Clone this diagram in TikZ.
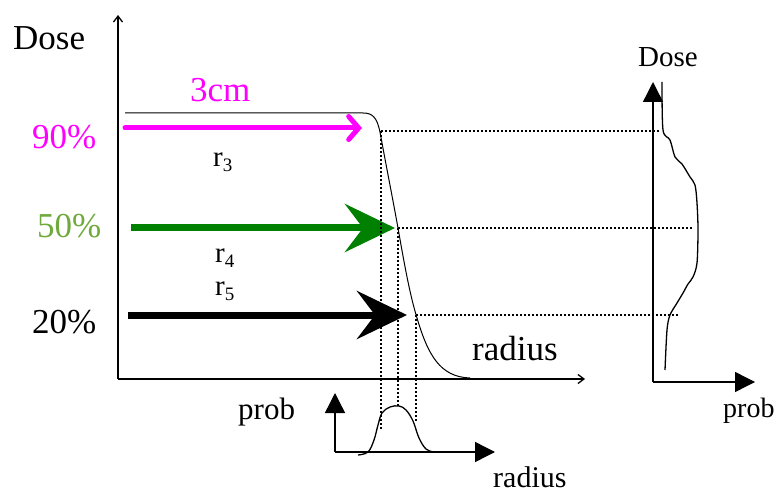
\documentclass[tikz,border=0pt]{standalone}
\usepackage{fontspec}
\setmainfont{Liberation Serif}
\usetikzlibrary{arrows.meta}
\definecolor{mag}{RGB}{255,0,255}
\definecolor{arrgreen}{RGB}{0,128,0}
\definecolor{txtgreen}{RGB}{112,170,60}
\newcommand{\fs}[1]{\fontsize{#1}{#1}\selectfont}
\newcommand{\rsub}[1]{r\raisebox{-5pt}{\fs{19}#1}}
\begin{document}
\begin{tikzpicture}[x=1pt,y=-1pt,
  lbl/.style={inner sep=0pt,anchor=base west},
  axis/.style={line width=1.3pt,-{Straight Barb[length=6pt,width=9pt]}},
  faxis/.style={line width=1.4pt,-{Triangle[length=20pt,width=20pt]}},
  dots/.style={line width=2pt,dash pattern=on 2pt off 2pt},
  curve/.style={line width=1pt}]
\useasboundingbox (0,0) rectangle (781,494);
\fill[white] (0,0) rectangle (781,494);
% main axes
\coordinate (O) at (118,379);
\coordinate (Ytop) at (118,15);
\coordinate (Xend) at (585,379);
\draw[axis] (O) -- (Ytop);
\draw[axis] (O) -- (Xend);
% dose curve
\draw[curve] (125,113) -- (363,113) .. controls (373,113) and (377,118) .. (380,132)
  .. controls (386,165) and (392,195) .. (398,228)
  .. controls (405,268) and (410,295) .. (417,318)
  .. controls (428,355) and (440,377) .. (470,378);
% arrows
\coordinate (m1) at (125,128); \coordinate (m2) at (362,128);
\coordinate (g1) at (131,228); \coordinate (g2) at (395,228);
\coordinate (k1) at (128,315); \coordinate (k2) at (407,315);
\draw[mag,line width=5pt,line cap=round,-{Straight Barb[length=10pt,width=23pt,line cap=round]}] (m1) -- (m2);
\draw[arrgreen,line width=7pt,-{Stealth[length=50pt,width=48pt,inset=18pt]}] (g1) -- (g2);
\draw[black,line width=7pt,-{Stealth[length=50pt,width=48pt,inset=18pt]}] (k1) -- (k2);
% labels
\node[lbl] (tDose) at (13,50) {\fs{35}Dose};
\node[lbl,text=mag] (t3cm) at (190,102) {\fs{35}3cm};
\node[lbl,text=mag] (t90) at (32,149) {\fs{35}90\%};
\node[lbl,text=txtgreen] (t50) at (37,237) {\fs{35}50\%};
\node[lbl] (t20) at (32,333) {\fs{35}20\%};
\node[lbl] (r3) at (213,167) {\fs{29}\rsub{3}};
\node[lbl] (r4) at (215,262) {\fs{29}\rsub{4}};
\node[lbl] (r5) at (215,295) {\fs{29}\rsub{5}};
\node[lbl] (tRad) at (472,360) {\fs{35}radius};
% bottom plot
\coordinate (bO) at (335,452);
\coordinate (bY) at (335,393);
\coordinate (bX) at (495,452);
\draw[faxis] (bO) -- (bY);
\draw[faxis] (bO) -- (bX);
\draw[curve,line width=1.3pt] plot[smooth,tension=0.6] coordinates {(358,455) (368,452) (374,440) (378,425) (382,413) (390,407) (399,406) (406,410) (413,421) (419,438) (426,449) (434,452) (442,452)};
\node[lbl] (tProbB) at (238,419) {\fs{31}prob};
\node[lbl] (tRadB) at (493,487) {\fs{30}radius};
% right plot
\coordinate (rO) at (653,382);
\coordinate (rY) at (653,82);
\coordinate (rX) at (755,382);
\draw[faxis] (rO) -- (rY);
\draw[faxis] (rO) -- (rX);
\draw[curve,line width=1.3pt] plot[smooth,tension=0.5] coordinates {(662,82) (663,130) (670,140) (675,157) (682,164) (690,177) (695,185) (697,203) (698,230) (697,263) (693,277) (688,284) (683,293) (677,303) (670,315) (667,330) (665,370)};
\node[lbl] (tDoseR) at (638,67) {\fs{29}Dose};
\node[lbl] (tProbR) at (723,417) {\fs{28}prob};
% dotted guides
\coordinate (p90) at (381,131); \coordinate (p50) at (398,228); \coordinate (p20) at (416,315);
\coordinate (q90) at (660,131); \coordinate (q50) at (692,228); \coordinate (q20) at (678,315);
\coordinate (b90) at (381,430); \coordinate (b50) at (398,406); \coordinate (b20) at (416,422);
\draw[dots] (p90) -- (q90);
\draw[dots] (p50) -- (q50);
\draw[dots] (p20) -- (q20);
\draw[dots] (p90) -- (b90);
\draw[dots] (p50) -- (b50);
\draw[dots] (p20) -- (b20);
\end{tikzpicture}
\end{document}
